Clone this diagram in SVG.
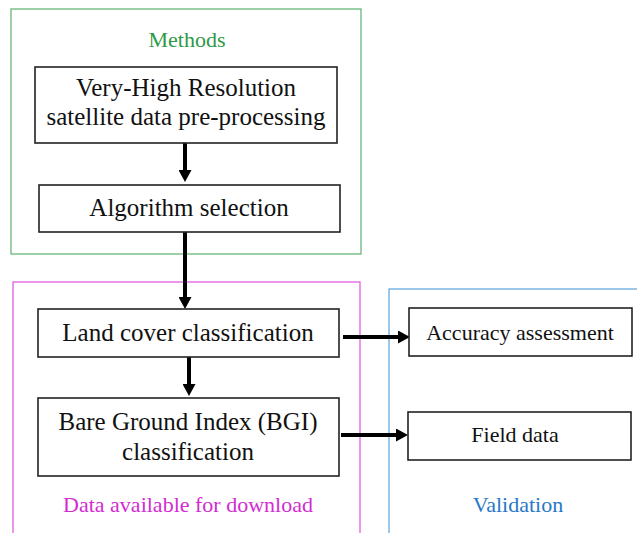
<svg xmlns="http://www.w3.org/2000/svg" width="637" height="533" viewBox="0 0 637 533">
<style>
  .box { fill: #ffffff; stroke: #222222; stroke-width: 1.6; }
  .t { font-family: "Liberation Serif", "Times New Roman", serif; fill: #111111; text-anchor: middle; }
  .big { font-size: 25px; }
  .small { font-size: 22px; }
  .lbl { font-family: "Liberation Serif", "Times New Roman", serif; font-size: 22px; text-anchor: middle; }
  .conn { stroke: #000000; stroke-width: 4; fill: none; }
</style>
<defs>
  <marker id="ah" viewBox="0 0 12 13" markerWidth="12" markerHeight="13" refX="0" refY="6.5" orient="auto" markerUnits="userSpaceOnUse">
    <path d="M0,0 L12,6.5 L0,13 Z" fill="#000000"/>
  </marker>
</defs>
<rect width="637" height="533" fill="#ffffff"/>

<g id="group-methods">
  <rect x="11" y="9" width="350" height="245" fill="none" stroke="#5cb070" stroke-width="1.2"/>
  <text class="lbl" x="187" y="47" fill="#2e9a48">Methods</text>
</g>
<g id="group-download">
  <rect x="13" y="282" width="347" height="260" fill="none" stroke="#e050e0" stroke-width="1.2"/>
  <text class="lbl" x="188" y="512" fill="#d22cd2">Data available for download</text>
</g>
<g id="group-validation">
  <rect x="389" y="289" width="260" height="260" fill="none" stroke="#5aa2dc" stroke-width="1.2"/>
  <text class="lbl" x="518" y="512" fill="#2878c8">Validation</text>
</g>

<g id="connectors">
  <line class="conn" x1="185" y1="143" x2="185" y2="170" marker-end="url(#ah)"/>
  <line class="conn" x1="185" y1="232" x2="185" y2="297" marker-end="url(#ah)"/>
  <line class="conn" x1="189" y1="357" x2="189" y2="384" marker-end="url(#ah)"/>
  <line class="conn" x1="343" y1="337" x2="398" y2="337" marker-end="url(#ah)"/>
  <line class="conn" x1="341" y1="435" x2="396" y2="435" marker-end="url(#ah)"/>
</g>

<g id="node-preprocessing">
  <rect class="box" x="35" y="67" width="302" height="76"/>
  <text class="t big" x="186" y="96">Very-High Resolution</text>
  <text class="t big" x="186" y="125">satellite data pre-processing</text>
</g>
<g id="node-algorithm">
  <rect class="box" x="39" y="185" width="301" height="47"/>
  <text class="t big" x="189" y="216">Algorithm selection</text>
</g>
<g id="node-landcover">
  <rect class="box" x="38" y="309" width="301" height="48"/>
  <text class="t big" x="188" y="341">Land cover classification</text>
</g>
<g id="node-bgi">
  <rect class="box" x="38" y="398" width="301" height="78"/>
  <text class="t big" x="188" y="430">Bare Ground Index (BGI)</text>
  <text class="t big" x="188" y="460">classification</text>
</g>
<g id="node-accuracy">
  <rect class="box" x="409" y="308" width="223" height="48"/>
  <text class="t small" x="520" y="340">Accuracy assessment</text>
</g>
<g id="node-field">
  <rect class="box" x="408" y="412" width="223" height="48"/>
  <text class="t small" x="515" y="442">Field data</text>
</g>
</svg>
